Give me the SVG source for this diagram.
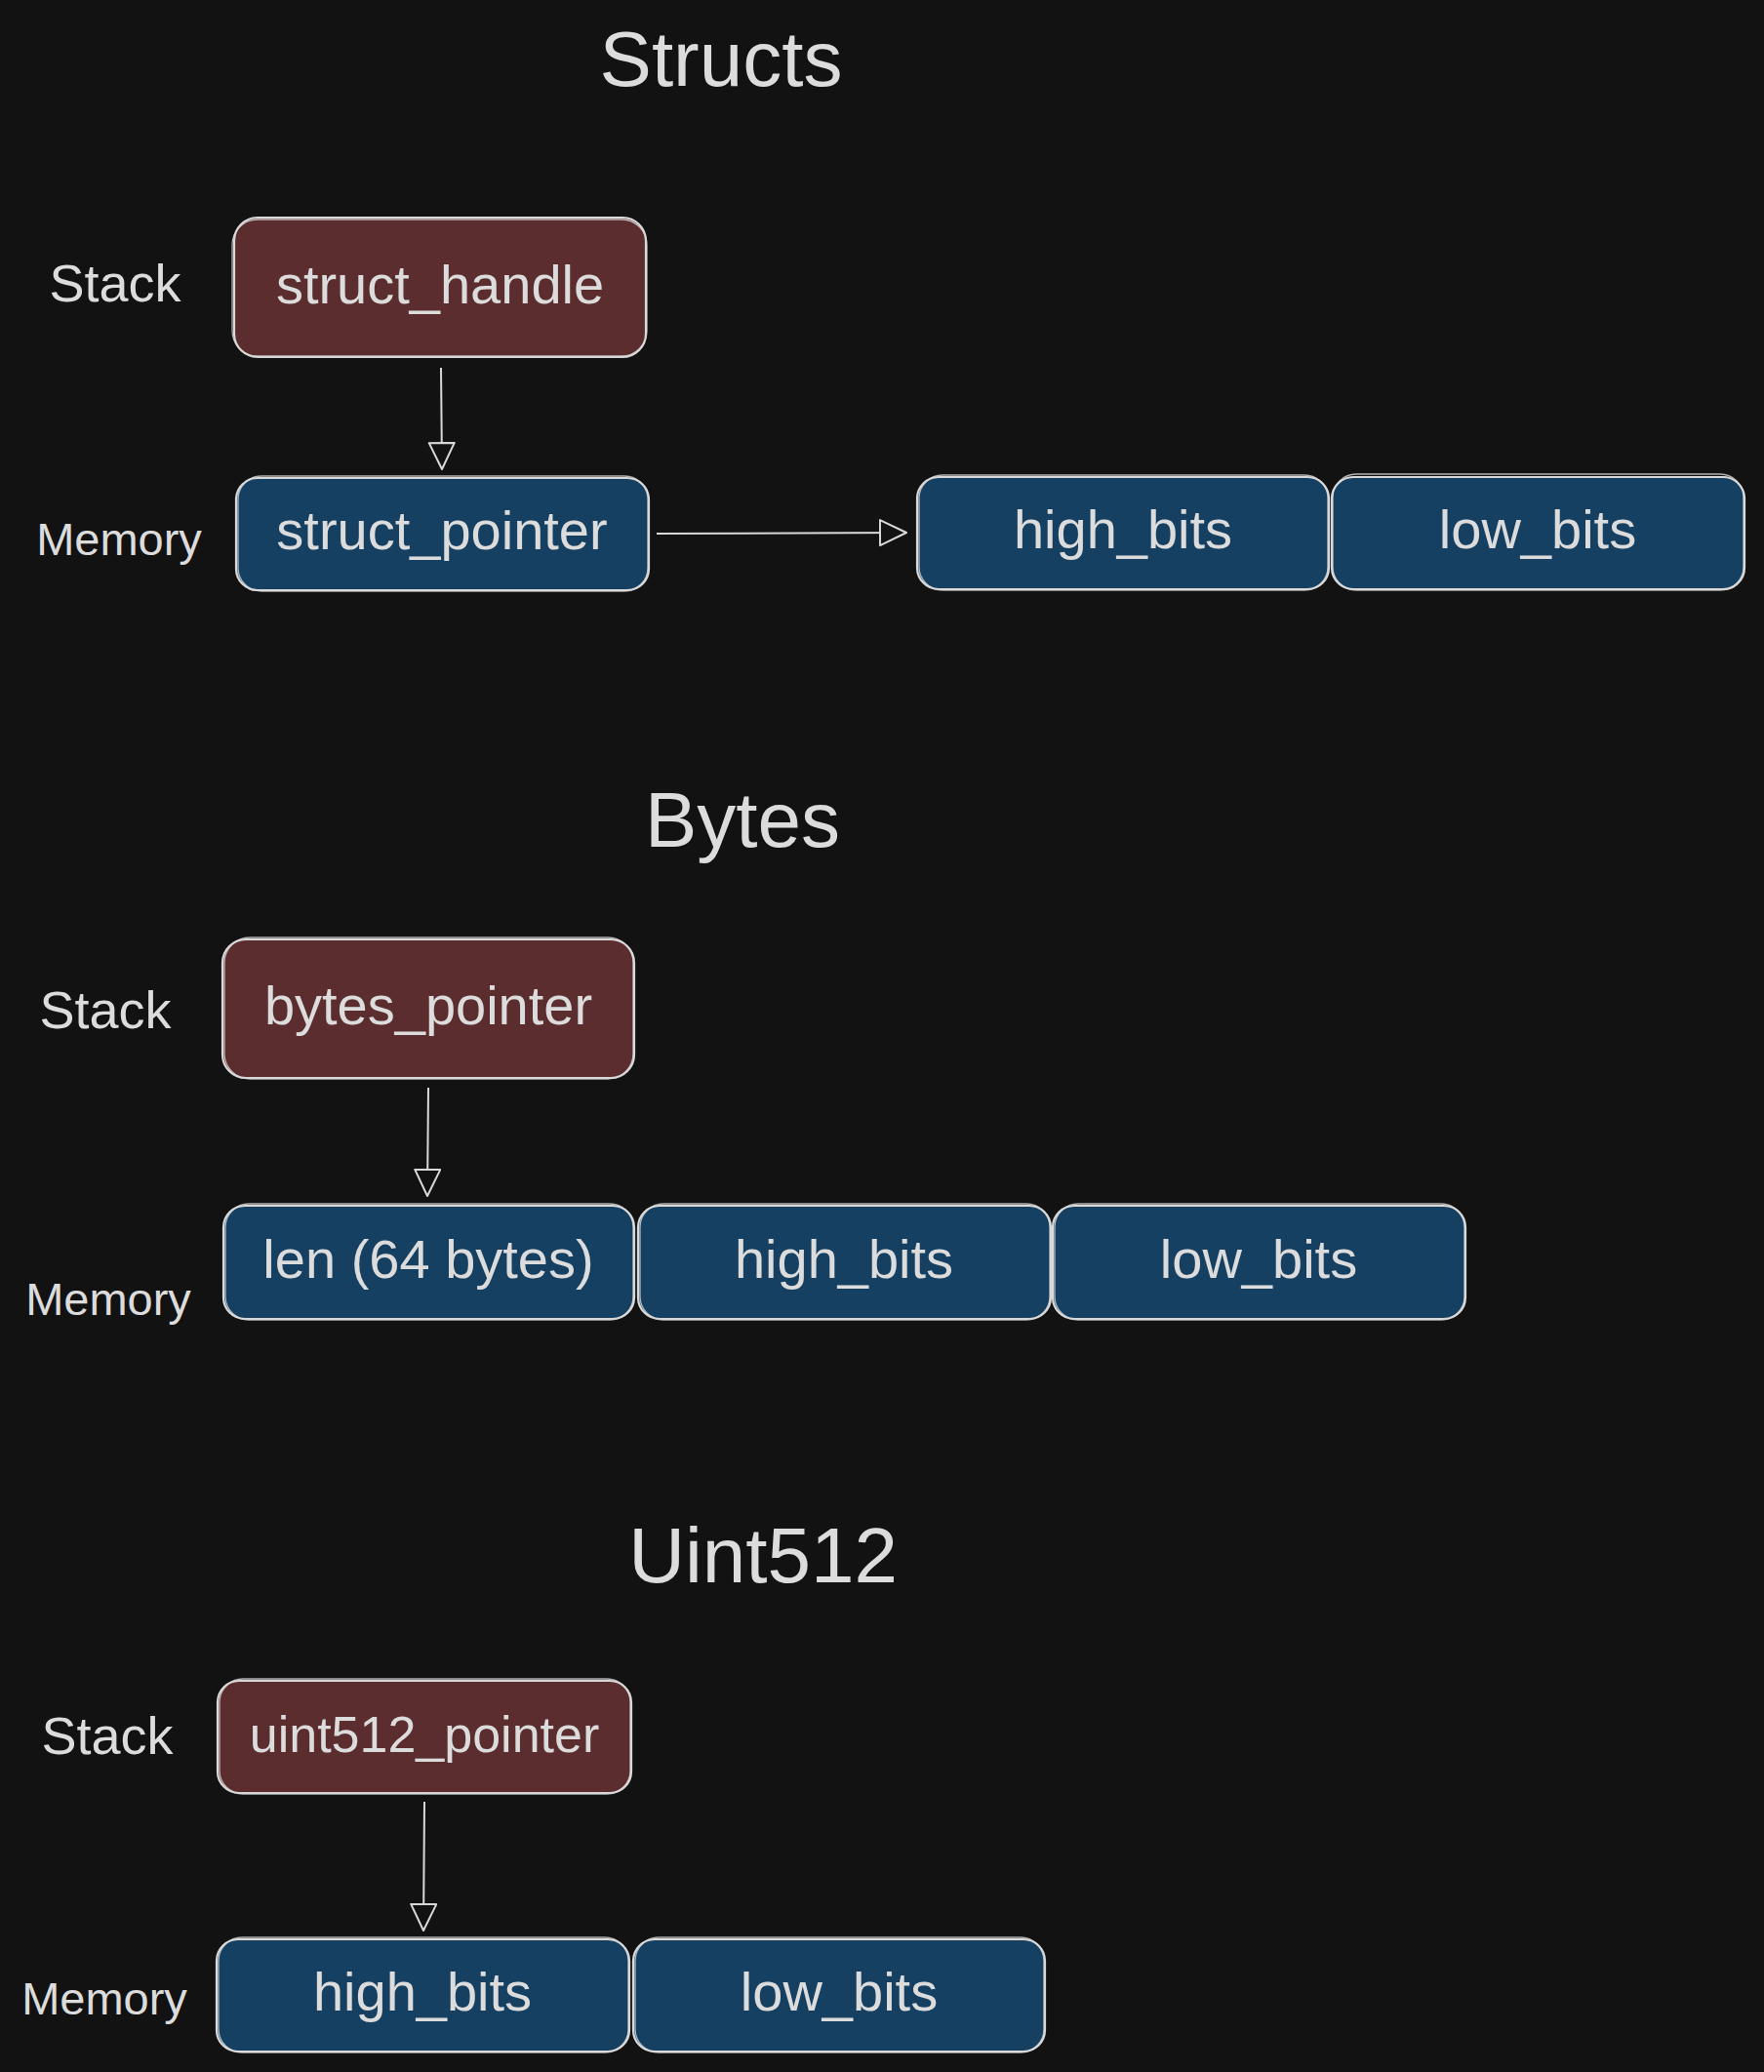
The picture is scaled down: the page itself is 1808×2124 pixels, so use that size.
<svg xmlns="http://www.w3.org/2000/svg" width="1808" height="2124" viewBox="0 0 1808 2124">
<defs>
<style>
.bg{fill:#121212}
.red{fill:#5b2d2e;stroke:#d9d9d9;stroke-width:2.2}
.blue{fill:#164062;stroke:#d9d9d9;stroke-width:2.2}
.sk{fill:none;stroke:#d9d9d9;stroke-width:1.3;opacity:0.8}
.t{font-family:"Liberation Sans",Arial,sans-serif;fill:#dcdcdc;text-anchor:middle}
.title{font-size:80px}
.stk{font-size:54px}
.mem{font-size:47px}
.node{font-size:56px}
.conn{stroke:#d9d9d9;stroke-width:2;fill:none}
</style>
<marker id="ah" markerUnits="userSpaceOnUse" markerWidth="40" markerHeight="40" viewBox="0 0 40 40" refX="28" refY="14" orient="auto">
<path d="M1,1 L28,14 L1,27 Z" fill="#121212" stroke="#d9d9d9" stroke-width="2" stroke-linejoin="round"/>
</marker>
</defs>
<rect class="bg" x="0" y="0" width="1808" height="2124"/>

<!-- Section 1: Structs -->
<text class="t title" x="739" y="88">Structs</text>
<text class="t stk" x="118" y="309">Stack</text>
<text class="t mem" x="122" y="569">Memory</text>

<g id="struct_handle">
<rect class="red" x="240" y="223" width="422" height="143" rx="24"/>
<rect class="sk" x="238" y="225" width="425" height="140" rx="26"/>
<text class="t node" x="451" y="311">struct_handle</text>
</g>
<g id="struct_pointer">
<rect class="blue" x="242" y="490" width="423" height="115" rx="22"/>
<rect class="sk" x="244" y="488" width="420" height="118" rx="24"/>
<text class="t node" x="453" y="563">struct_pointer</text>
</g>
<g id="s_high_bits">
<rect class="blue" x="940" y="489" width="422" height="115" rx="22"/>
<rect class="sk" x="942" y="487" width="419" height="118" rx="24"/>
<text class="t node" x="1151" y="562">high_bits</text>
</g>
<g id="s_low_bits">
<rect class="blue" x="1365" y="489" width="423" height="115" rx="22"/>
<rect class="sk" x="1366" y="486" width="421" height="119" rx="24"/>
<text class="t node" x="1576" y="562">low_bits</text>
</g>

<!-- Section 2: Bytes -->
<text class="t title" x="761" y="868">Bytes</text>
<text class="t stk" x="108" y="1054">Stack</text>
<text class="t mem" x="111" y="1348">Memory</text>

<g id="bytes_pointer">
<rect class="red" x="228" y="963" width="422" height="142" rx="24"/>
<rect class="sk" x="230" y="961" width="419" height="145" rx="26"/>
<text class="t node" x="439" y="1050">bytes_pointer</text>
</g>
<g id="b_len">
<rect class="blue" x="229" y="1236" width="421" height="116" rx="22"/>
<rect class="sk" x="231" y="1234" width="418" height="119" rx="24"/>
<text class="t node" x="439" y="1310">len (64 bytes)</text>
</g>
<g id="b_high_bits">
<rect class="blue" x="654" y="1236" width="423" height="116" rx="22"/>
<rect class="sk" x="656" y="1234" width="420" height="119" rx="24"/>
<text class="t node" x="865" y="1310">high_bits</text>
</g>
<g id="b_low_bits">
<rect class="blue" x="1079" y="1236" width="423" height="116" rx="22"/>
<rect class="sk" x="1081" y="1234" width="420" height="119" rx="24"/>
<text class="t node" x="1290" y="1310">low_bits</text>
</g>

<!-- Section 3: Uint512 -->
<text class="t title" x="782" y="1622">Uint512</text>
<text class="t stk" x="110" y="1798">Stack</text>
<text class="t mem" x="107" y="2065">Memory</text>

<g id="uint512_pointer">
<rect class="red" x="223" y="1723" width="424" height="115" rx="22"/>
<rect class="sk" x="225" y="1721" width="421" height="118" rx="24"/>
<text class="t node" x="435" y="1796" style="font-size:52px">uint512_pointer</text>
</g>
<g id="u_high_bits">
<rect class="blue" x="222" y="1988" width="423" height="115" rx="22"/>
<rect class="sk" x="224" y="1986" width="420" height="118" rx="24"/>
<text class="t node" x="433" y="2061">high_bits</text>
</g>
<g id="u_low_bits">
<rect class="blue" x="649" y="1988" width="422" height="115" rx="22"/>
<rect class="sk" x="651" y="1986" width="419" height="118" rx="24"/>
<text class="t node" x="860" y="2061">low_bits</text>
</g>

<g id="connectors">
<path class="conn" d="M452,377 L453,481" marker-end="url(#ah)"/>
<path class="conn" d="M673,547 L929,546" marker-end="url(#ah)"/>
<path class="conn" d="M439,1115 L438,1226" marker-end="url(#ah)"/>
<path class="conn" d="M435,1847 L434,1979" marker-end="url(#ah)"/>
</g>
</svg>
